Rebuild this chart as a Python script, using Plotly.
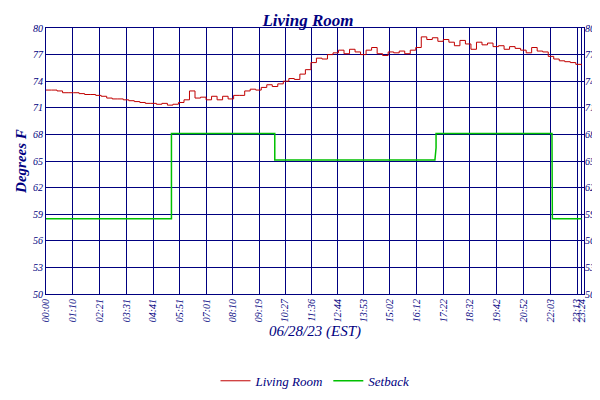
import plotly.graph_objects as go

# Living room temperature samples spanning 00:00 to 23:24
temp_values = [
    73.0, 73.0, 72.9, 72.7, 72.7, 72.7, 72.6, 72.5, 72.5, 72.4,
    72.3, 72.1, 72.0, 72.0, 71.9, 71.8, 71.7, 71.6, 71.5, 71.5,
    71.4, 71.5, 71.3, 71.4, 71.6, 71.9, 72.9, 72.1, 72.2, 71.9,
    72.3, 71.9, 72.3, 72.0, 72.4, 72.4, 72.9, 73.1, 73.0, 73.3,
    73.6, 73.4, 73.7, 74.0, 74.3, 74.2, 74.8, 75.3, 76.1, 76.6,
    76.5, 77.0, 77.2, 77.5, 77.1, 77.6, 77.3, 77.0, 77.5, 77.8,
    77.1, 76.9, 77.3, 77.2, 77.4, 77.1, 77.5, 77.8, 79.0, 78.7,
    78.9, 78.5, 78.7, 78.4, 78.0, 78.6, 78.2, 77.6, 78.4, 78.1,
    78.3, 77.9, 78.0, 77.6, 77.9, 77.7, 77.5, 77.2, 77.8, 77.4,
    77.3, 76.8, 76.5, 76.3, 76.2, 76.1, 75.9, 75.8,
]
step = 1404 / (len(temp_values) - 1)
temp_minutes = [round(i * step, 1) for i in range(len(temp_values))]

setback_minutes = [0, 329, 329, 600, 600, 1020, 1023, 1023, 1327, 1328, 1328, 1404]
setback_values = [58.5, 58.5, 68.1, 68.1, 65.1, 65.1, 66.5, 68.1, 68.1, 63.0, 58.5, 58.5]

tick_labels = ["00:00", "01:10", "02:21", "03:31", "04:41", "05:51", "07:01", "08:10",
               "09:19", "10:27", "11:36", "12:44", "13:53", "15:02", "16:12", "17:22",
               "18:32", "19:42", "20:52", "22:03", "23:13", "23:24"]
tick_minutes = [int(t[:2]) * 60 + int(t[3:]) for t in tick_labels]
y_ticks = [50, 53, 56, 59, 62, 65, 68, 71, 74, 77, 80]

navy = "#000080"
FONT = "Liberation Serif"

fig = go.Figure()
fig.add_trace(go.Scatter(x=temp_minutes, y=temp_values, mode="lines", name="<i>Living Room</i>",
                         line=dict(color="#c00000", width=1, shape="hv")))
fig.add_trace(go.Scatter(x=setback_minutes, y=setback_values, mode="lines", name="<i>Setback</i>",
                         line=dict(color="#00c000", width=1.5)))
fig.add_trace(go.Scatter(x=[0, 1404], y=[None, None], yaxis="y2", showlegend=False, hoverinfo="skip"))

fig.update_layout(
    width=600, height=400, paper_bgcolor="white", plot_bgcolor="white",
    margin=dict(l=33, r=17, t=20, b=67),
    title=dict(text="<i><b>Living Room</b></i>", x=0.5, y=0.985, font=dict(family=FONT, size=17, color=navy)),
    font=dict(family=FONT, size=10, color=navy),
    xaxis=dict(range=[0, 1411], tickmode="array", tickvals=tick_minutes,
               ticktext=[f"<i>{t}</i>" for t in tick_labels], tickangle=-90,
               showgrid=True, gridcolor=navy, gridwidth=1, linecolor=navy, mirror=True,
               showline=True, zeroline=False, tickfont=dict(family=FONT, size=10, color=navy),
               title=dict(text="<i>06/28/23 (EST)</i>", font=dict(family=FONT, size=15, color=navy), standoff=4)),
    yaxis=dict(range=[50, 80], tickmode="array", tickvals=y_ticks,
               ticktext=[f"<i>{v}</i>" for v in y_ticks],
               showgrid=True, gridcolor=navy, gridwidth=1, linecolor=navy, mirror=True,
               showline=True, zeroline=False, ticks="", tickfont=dict(family=FONT, size=10, color=navy),
               title=dict(text="<i><b>Degrees F</b></i>", font=dict(family=FONT, size=15, color=navy), standoff=2)),
    yaxis2=dict(range=[50, 80], overlaying="y", side="right", tickmode="array", tickvals=y_ticks,
                ticktext=[f"<i>{v}</i>" for v in y_ticks], showgrid=False, zeroline=False,
                tickfont=dict(family=FONT, size=10, color=navy)),
    legend=dict(orientation="h", x=0.5, xanchor="center", y=-0.27, yanchor="top",
                font=dict(family=FONT, size=13, color=navy), itemwidth=30, tracegroupgap=0),
)
fig.write_html("out.html")
